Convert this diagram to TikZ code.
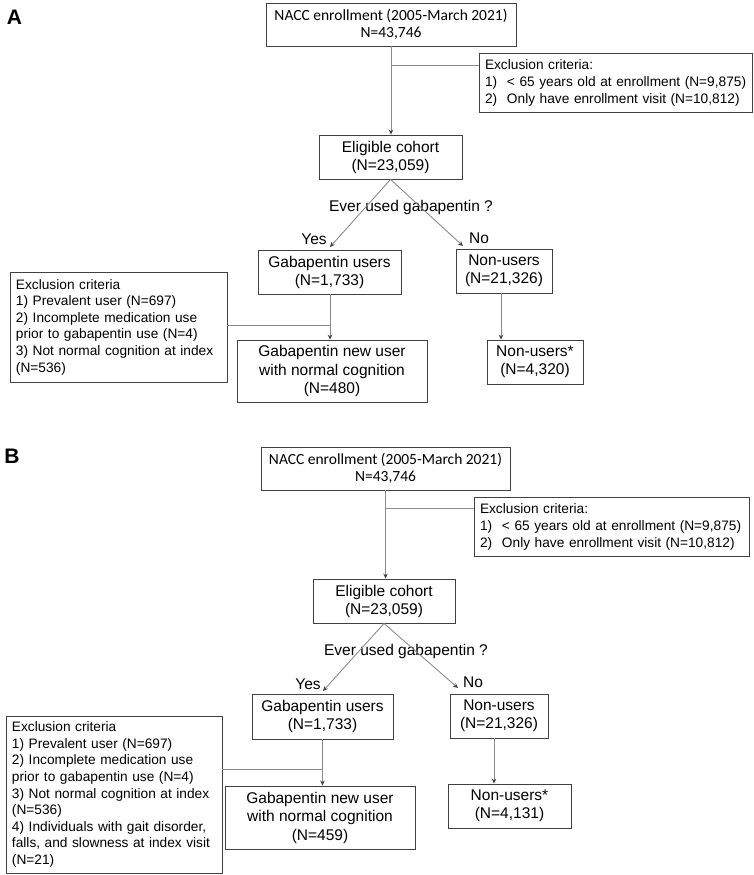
\documentclass[tikz,border=0pt]{standalone}
\usepackage{fontspec}
\setmainfont{Liberation Sans}
\newfontfamily\calib{Carlito}
\usetikzlibrary{arrows.meta}
\definecolor{boxline}{HTML}{404040}
\definecolor{linegray}{HTML}{8C8C8C}
\begin{document}
\begin{tikzpicture}[x=1pt,y=-1pt,
  box/.style={draw=boxline, line width=0.9pt, inner sep=0pt, align=center, font=\fontsize{15.5}{18}\selectfont},
  topbox/.style={box, font=\calib\fontsize{15.5}{17}\selectfont},
  lbox/.style={draw=boxline, line width=0.9pt, inner xsep=6pt, inner ysep=0pt, align=left},
  toplist/.style={lbox, font=\fontsize{13.7}{17}\selectfont},
  sidelist/.style={lbox, font=\fontsize{13.7}{16.6}\selectfont},
  connector/.style={draw=linegray, line width=0.9pt},
  arr/.style={connector, -{Stealth[length=5pt,width=4.5pt,color=black!75]}},
  lbl/.style={font=\fontsize{15.5}{18}\selectfont, inner sep=0pt},
  panel/.style={font=\fontsize{21}{24}\selectfont\bfseries, inner sep=0pt}]
\useasboundingbox (0,0) rectangle (754,875);

% ---------------- Panel A ----------------
\node[panel] (pA) at (14.5,17) {A};
\node[topbox, minimum width=250pt, minimum height=43pt] (nA) at (391,24.5) {NACC enrollment (2005-March 2021)\\N=43,746};
\node[toplist, text width=261pt, minimum height=59pt] (xA) at (615.5,82.5) {Exclusion criteria:\\\mbox{\makebox[22pt][l]{1)}< 65 years old at enrollment (N=9,875)}\\\mbox{\makebox[22pt][l]{2)}Only have enrollment visit (N=10,812)}};
\node[box, minimum width=143pt, minimum height=44pt] (eA) at (390.5,157) {Eligible cohort\\(N=23,059)};
\node[lbl] (qA) at (411,207) {Ever used gabapentin ?};
\node[lbl] (yesA) at (314,239) {Yes};
\node[lbl] (noA) at (479,238) {No};
\node[box, minimum width=143pt, minimum height=44pt] (gA) at (329.5,272) {Gabapentin users\\(N=1,733)};
\node[box, minimum width=96pt, minimum height=44pt] (uA) at (504,271) {Non-users\\(N=21,326)};
\node[box, font=\fontsize{15.5}{18.5}\selectfont, minimum width=190pt, minimum height=62pt] (wA) at (332,371) {Gabapentin new user\\with normal cognition\\(N=480)};
\node[box, minimum width=96pt, minimum height=44pt] (sA) at (535,362) {Non-users*\\(N=4,320)};
\node[sidelist, text width=205pt, minimum height=110pt] (lA) at (118.5,327) {Exclusion criteria\\1) Prevalent user (N=697)\\2) Incomplete medication use\\prior to gabapentin use (N=4)\\3) Not normal cognition at index\\(N=536)};

\draw[arr] (nA.south) -- (nA.south |- eA.north);
\coordinate (bA) at (391,65);
\draw[connector] (bA) -- (bA -| xA.west);
\coordinate (tyA) at (330,247);
\coordinate (tnA) at (463,246);
\draw[arr] (eA.south) -- (tyA);
\draw[arr] (eA.south) -- (tnA);
\coordinate (vA) at (330,294);
\draw[arr] (vA) -- (vA |- wA.north);
\coordinate (cA) at (330,325);
\draw[connector] (lA.east |- cA) -- (cA);
\coordinate (vuA) at (501,293);
\draw[arr] (vuA) -- (vuA |- sA.north);

% ---------------- Panel B ----------------
\node[panel] (pB) at (12,456) {B};
\node[topbox, minimum width=249pt, minimum height=43pt] (nB) at (385.5,468.5) {NACC enrollment (2005-March 2021)\\N=43,746};
\node[toplist, text width=263pt, minimum height=59pt] (xB) at (611.5,526.5) {Exclusion criteria:\\\mbox{\makebox[22pt][l]{1)}< 65 years old at enrollment (N=9,875)}\\\mbox{\makebox[22pt][l]{2)}Only have enrollment visit (N=10,812)}};
\node[box, minimum width=142pt, minimum height=44pt] (eB) at (384,601) {Eligible cohort\\(N=23,059)};
\node[lbl] (qB) at (406,651) {Ever used gabapentin ?};
\node[lbl] (yesB) at (308,684) {Yes};
\node[lbl] (noB) at (473,682) {No};
\node[box, minimum width=141pt, minimum height=45pt] (gB) at (322.5,716.5) {Gabapentin users\\(N=1,733)};
\node[box, minimum width=98pt, minimum height=44pt] (uB) at (499,716) {Non-users\\(N=21,326)};
\node[box, font=\fontsize{15.5}{18.5}\selectfont, minimum width=190pt, minimum height=63pt] (wB) at (320,817.5) {Gabapentin new user\\with normal cognition\\(N=459)};
\node[box, minimum width=123pt, minimum height=44pt] (sB) at (509.5,806) {Non-users*\\(N=4,131)};
\node[sidelist, text width=204pt, minimum height=157pt] (lB) at (114,794.5) {Exclusion criteria\\1) Prevalent user (N=697)\\2) Incomplete medication use\\prior to gabapentin use (N=4)\\3) Not normal cognition at index\\(N=536)\\4) Individuals with gait disorder,\\falls, and slowness at index visit\\(N=21)};

\draw[arr] (nB.south) -- (nB.south |- eB.north);
\coordinate (bB) at (385.5,508);
\draw[connector] (bB) -- (bB -| xB.west);
\coordinate (tyB) at (323,691);
\coordinate (tnB) at (458,688);
\draw[arr] (eB.south) -- (tyB);
\draw[arr] (eB.south) -- (tnB);
\coordinate (vB) at (322.5,739);
\draw[arr] (vB) -- (vB |- wB.north);
\coordinate (cB) at (322.5,769);
\draw[connector] (lB.east |- cB) -- (cB);
\coordinate (vuB) at (494,738);
\draw[arr] (vuB) -- (vuB |- sB.north);
\end{tikzpicture}
\end{document}
